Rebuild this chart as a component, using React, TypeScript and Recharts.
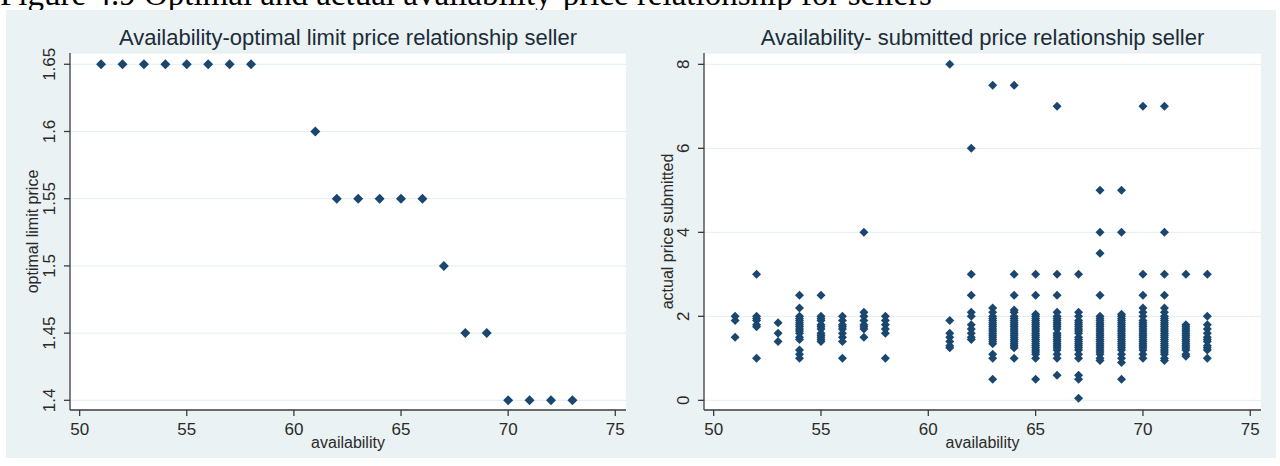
import { ScatterChart, Scatter, XAxis, YAxis, CartesianGrid } from "recharts";

// availability vs. optimal limit price (one point per availability level)
const limitAvailability = [51, 52, 53, 54, 55, 56, 57, 58, 61, 62, 63, 64, 65, 66, 67, 68, 69, 70, 71, 72, 73];
const optimalLimitPrice = [
  1.65, 1.65, 1.65, 1.65, 1.65, 1.65, 1.65, 1.65, 1.6, 1.55, 1.55, 1.55, 1.55, 1.55, 1.5, 1.45, 1.45, 1.4, 1.4,
  1.4, 1.4,
];

// availability vs. prices actually submitted (several bids per level)
const sellerAvailability = [51, 52, 53, 54, 55, 56, 57, 58, 61, 62, 63, 64, 65, 66, 67, 68, 69, 70, 71, 72, 73];
const submittedPrices = [
  [2, 1.9, 1.5],
  [3, 2, 1.95, 1.9, 1.8, 1.75, 1],
  [1.85, 1.6, 1.4],
  [2.5, 2.2, 2, 1.95, 1.9, 1.85, 1.8, 1.75, 1.7, 1.65, 1.6, 1.5, 1.45, 1.2, 1.1, 1],
  [2.5, 2, 1.95, 1.9, 1.8, 1.75, 1.7, 1.6, 1.55, 1.5, 1.45, 1.4],
  [2, 1.9, 1.8, 1.75, 1.7, 1.6, 1.5, 1.4, 1],
  [4, 2.1, 2, 1.9, 1.8, 1.75, 1.7, 1.5],
  [2, 1.9, 1.8, 1.7, 1.6, 1],
  [8, 1.9, 1.6, 1.5, 1.4, 1.3, 1.25],
  [6, 3, 2.5, 2.1, 2, 1.8, 1.7, 1.6, 1.5, 1.45],
  [7.5, 2.2, 2.1, 2, 1.95, 1.9, 1.85, 1.8, 1.75, 1.7, 1.65, 1.6, 1.55, 1.5, 1.45, 1.4, 1.35, 1.1, 1, 0.5],
  [7.5, 3, 2.5, 2.15, 2.1, 2, 1.95, 1.9, 1.85, 1.8, 1.75, 1.7, 1.65, 1.6, 1.55, 1.5, 1.45, 1.4, 1.35, 1.3, 1.25, 1],
  [3, 2.5, 2.05, 2, 1.95, 1.9, 1.85, 1.8, 1.75, 1.7, 1.65, 1.6, 1.55, 1.5, 1.45, 1.4, 1.35, 1.3, 1.25, 1.2, 1.15, 1.1, 1, 0.5],
  [7, 3, 2.5, 2.1, 2, 1.95, 1.9, 1.85, 1.8, 1.75, 1.7, 1.6, 1.55, 1.5, 1.45, 1.4, 1.35, 1.3, 1.25, 1.2, 1.1, 1, 0.6],
  [3, 2.1, 2, 1.9, 1.85, 1.8, 1.75, 1.7, 1.65, 1.6, 1.5, 1.45, 1.4, 1.35, 1.3, 1.25, 1.2, 1.1, 1, 0.6, 0.5, 0.05],
  [5, 4, 3.5, 2.5, 2, 1.95, 1.9, 1.85, 1.8, 1.75, 1.7, 1.65, 1.6, 1.55, 1.5, 1.45, 1.4, 1.35, 1.3, 1.25, 1.2, 1.15, 1.1, 1, 0.95],
  [5, 4, 2.05, 2, 1.95, 1.9, 1.85, 1.8, 1.75, 1.7, 1.65, 1.6, 1.55, 1.5, 1.45, 1.4, 1.35, 1.3, 1.25, 1.2, 1.1, 1, 0.9, 0.5],
  [7, 3, 2.5, 2.2, 2.1, 2, 1.9, 1.85, 1.8, 1.75, 1.7, 1.65, 1.6, 1.55, 1.5, 1.45, 1.4, 1.35, 1.3, 1.25, 1.2, 1.1, 1],
  [7, 4, 3, 2.5, 2.2, 2.1, 2, 1.95, 1.9, 1.85, 1.8, 1.75, 1.7, 1.65, 1.6, 1.55, 1.5, 1.45, 1.4, 1.35, 1.3, 1.25, 1.2, 1.15, 1.1, 1, 0.95],
  [3, 1.8, 1.75, 1.7, 1.65, 1.6, 1.55, 1.5, 1.45, 1.4, 1.35, 1.3, 1.25, 1.2, 1.1, 1.05],
  [3, 2, 1.8, 1.7, 1.6, 1.5, 1.45, 1.4, 1.3, 1.25, 1.2, 1],
];

const availabilityTicks = [50, 55, 60, 65, 70, 75];
const limitPriceTicks = [1.4, 1.45, 1.5, 1.55, 1.6, 1.65];
const submittedTicks = [0, 2, 4, 6, 8];

const FONT = "'Liberation Sans', Arial, Helvetica, sans-serif";
const NAVY = "#1a476f";
const INK = "#2a2a2a";
const AXIS = { stroke: "#3c3c3c", strokeWidth: 1.3 };

const limitData = limitAvailability.map((x, i) => ({ x, y: optimalLimitPrice[i] }));
const submittedData = sellerAvailability.flatMap((x, i) => submittedPrices[i].map((y) => ({ x, y })));

// stata-style filled diamond
function diamond(r: number) {
  return (p: any) => {
    const { cx, cy } = p;
    if (cx == null || cy == null) return <g />;
    return (
      <polygon
        points={`${cx},${cy - r} ${cx + r},${cy} ${cx},${cy + r} ${cx - r},${cy}`}
        fill={NAVY}
        stroke="none"
      />
    );
  };
}

// y labels are drawn turned on their side
function SideTick(props: any) {
  const { x, y, payload } = props;
  const cx = x - 6;
  return (
    <text
      x={cx}
      y={y}
      transform={`rotate(-90, ${cx}, ${y})`}
      textAnchor="middle"
      dominantBaseline="central"
      fontSize={17}
      fontFamily={FONT}
      fill={INK}
    >
      {String(payload.value)}
    </text>
  );
}

function Panel({
  left,
  title,
  yTitle,
  data,
  yDomain,
  yTicks,
  margin,
  yTitleOffset,
  r,
}: {
  left: number;
  title: string;
  yTitle: string;
  data: { x: number; y: number }[];
  yDomain: [number, number];
  yTicks: number[];
  margin: { top: number; right: number; bottom: number; left: number };
  yTitleOffset: number;
  r: number;
}) {
  const plotLeft = margin.left + 50;
  const plotRight = 640 - margin.right;
  return (
    <div style={{ position: "absolute", left, top: 0, width: 640, height: 466 }}>
      <div
        style={{
          position: "absolute",
          left: plotLeft - 40,
          width: plotRight - plotLeft + 80,
          top: 27,
          textAlign: "center",
          fontFamily: FONT,
          fontSize: 22,
          lineHeight: 1,
          color: "#1c2c38",
          whiteSpace: "nowrap",
        }}
      >
        {title}
      </div>
      <ScatterChart width={640} height={466} margin={margin}>
        <CartesianGrid vertical={false} stroke="#e5edef" fill="#ffffff" />
        <XAxis
          type="number"
          dataKey="x"
          domain={[49.55, 75.5]}
          allowDataOverflow
          ticks={availabilityTicks}
          height={40}
          tickSize={6}
          tickMargin={7}
          axisLine={AXIS}
          tickLine={AXIS}
          tick={{ fontSize: 17, fontFamily: FONT, fill: INK }}
          label={{
            value: "availability",
            position: "insideBottom",
            offset: 2,
            fontSize: 16,
            fontFamily: FONT,
            fill: INK,
          }}
        />
        <YAxis
          type="number"
          dataKey="y"
          domain={yDomain}
          allowDataOverflow
          ticks={yTicks}
          width={50}
          tickSize={6}
          tickMargin={8}
          axisLine={AXIS}
          tickLine={AXIS}
          tick={<SideTick />}
          label={{
            value: yTitle,
            angle: -90,
            position: "insideLeft",
            offset: yTitleOffset,
            fontSize: 16,
            fontFamily: FONT,
            fill: INK,
            style: { textAnchor: "middle" },
          }}
        />
        <Scatter data={data} shape={diamond(r)} isAnimationActive={false} />
      </ScatterChart>
    </div>
  );
}

export default function App() {
  return (
    <div style={{ position: "absolute", left: 0, top: 0, width: 1280, height: 466, background: "#fff", overflow: "hidden" }}>
      <div
        style={{
          position: "absolute",
          left: 0,
          top: -24,
          fontFamily: "'Liberation Serif', 'Times New Roman', serif",
          fontSize: 33,
          lineHeight: "36px",
          color: "#000",
          whiteSpace: "nowrap",
        }}
      >
        Figure 4.9 Optimal and actual availability-price relationship for sellers
      </div>
      <div style={{ position: "absolute", left: 6, top: 10, width: 1270, height: 448, background: "#eaf2f3" }} />
      <Panel
        left={0}
        title="Availability-optimal limit price relationship seller"
        yTitle="optimal limit price"
        data={limitData}
        yDomain={[1.3928, 1.6584]}
        yTicks={limitPriceTicks}
        margin={{ top: 53, right: 14, bottom: 16, left: 20 }}
        yTitleOffset={12}
        r={5}
      />
      <Panel
        left={640}
        title="Availability- submitted price relationship seller"
        yTitle="actual price submitted"
        data={submittedData}
        yDomain={[-0.23, 8.27]}
        yTicks={submittedTicks}
        margin={{ top: 53, right: 19, bottom: 16, left: 14 }}
        yTitleOffset={13}
        r={4.5}
      />
    </div>
  );
}
